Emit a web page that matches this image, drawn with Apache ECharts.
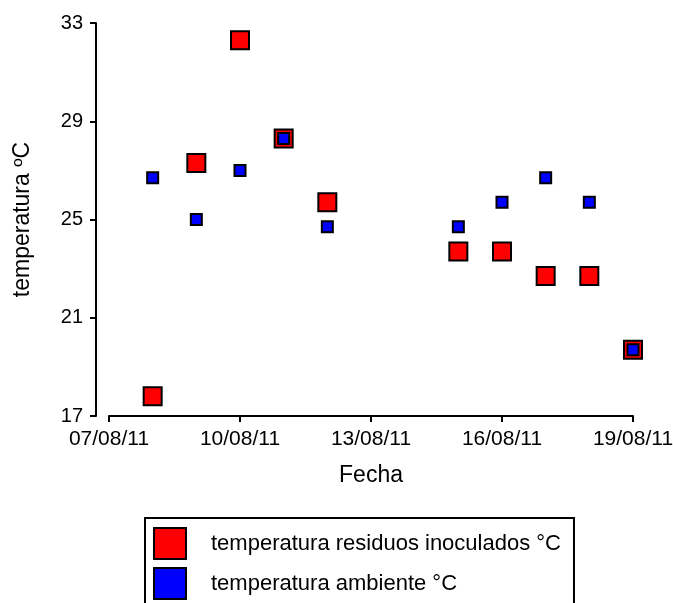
<!DOCTYPE html>
<html>
<head>
<meta charset="utf-8">
<script src="https://cdn.jsdelivr.net/npm/echarts@6/dist/echarts.min.js"></script>
<style>
  html, body { margin: 0; padding: 0; background: #fff; }
  #main { width: 673px; height: 603px; }
</style>
</head>
<body>
<div id="main"></div>
<script>
// fechas de medida (dd/mm/yy)
var fechas = ['08/08/11', '09/08/11', '10/08/11', '11/08/11', '12/08/11',
              '15/08/11', '16/08/11', '17/08/11', '18/08/11', '19/08/11'];
var residuos = [17.8, 27.3, 32.3, 28.3, 25.7, 23.7, 23.7, 22.7, 22.7, 19.7];
var ambiente = [26.7, 25.0, 27.0, 28.3, 24.7, 24.7, 25.7, 26.7, 25.7, 19.7];
var yTicks = [17, 21, 25, 29, 33];
var fechaInicio = '07/08/11';

function toDate(s) {
    var p = s.split('/');
    return new Date(2000 + (+p[2]), (+p[1]) - 1, +p[0]);
}
var t0 = toDate(fechaInicio).getTime();
function dia(s) { return Math.round((toDate(s).getTime() - t0) / 86400000); }
function pad(n) { return (n < 10 ? '0' : '') + n; }

var font = 'Liberation Sans, Arial, sans-serif';
var myChart = echarts.init(document.getElementById('main'));

var option = {
    backgroundColor: '#fff',
    animation: false,
    grid: { left: 109, right: 40, top: 23, bottom: 187, outerBoundsMode: 'none' },
    legend: {
        orient: 'vertical',
        left: 145,
        top: 518,
        height: 150,
        padding: [9, 13, 10, 8],
        itemWidth: 32,
        itemHeight: 31,
        itemGap: 7,
        borderColor: '#000',
        borderWidth: 2,
        icon: 'rect',
        textStyle: { fontFamily: font, fontSize: 22, color: '#000', padding: [0, 0, 0, 20] },
        data: ['temperatura residuos inoculados °C', 'temperatura ambiente °C']
    },
    xAxis: {
        type: 'value',
        min: 0,
        max: 12,
        interval: 3,
        name: 'Fecha',
        nameLocation: 'middle',
        nameGap: 48,
        nameTextStyle: { fontFamily: font, fontSize: 23, color: '#000' },
        axisLine: { onZero: false, lineStyle: { color: '#000', width: 2 } },
        axisTick: { length: 6, lineStyle: { color: '#000', width: 2 } },
        splitLine: { show: false },
        axisLabel: {
            fontFamily: font, fontSize: 21, color: '#000', margin: 13,
            formatter: function (v) {
                var d = new Date(t0 + v * 86400000);
                return pad(d.getDate()) + '/' + pad(d.getMonth() + 1) + '/' + pad(d.getFullYear() % 100);
            }
        }
    },
    yAxis: {
        type: 'value',
        min: yTicks[0],
        max: yTicks[yTicks.length - 1],
        offset: 13,
        name: 'temperatura ºC',
        nameLocation: 'middle',
        nameGap: 62,
        nameTextStyle: { fontFamily: font, fontSize: 23, color: '#000' },
        axisLine: { show: true, onZero: false, lineStyle: { color: '#000', width: 2 } },
        axisTick: { show: true, length: 6, customValues: yTicks, lineStyle: { color: '#000', width: 2 } },
        splitLine: { show: false },
        axisLabel: { fontFamily: font, fontSize: 20, color: '#000', margin: 13, customValues: yTicks }
    },
    series: [
        {
            name: 'temperatura residuos inoculados °C',
            type: 'scatter',
            symbol: 'rect',
            symbolSize: 18,
            itemStyle: { color: '#ff0000', borderColor: '#000', borderWidth: 2, opacity: 1 },
            data: fechas.map(function (f, i) { return [dia(f), residuos[i]]; })
        },
        {
            name: 'temperatura ambiente °C',
            type: 'scatter',
            symbol: 'rect',
            symbolSize: 11,
            itemStyle: { color: '#0000ff', borderColor: '#000', borderWidth: 2, opacity: 1 },
            data: fechas.map(function (f, i) { return [dia(f), ambiente[i]]; })
        }
    ]
};

myChart.setOption(option);
</script>
</body>
</html>
